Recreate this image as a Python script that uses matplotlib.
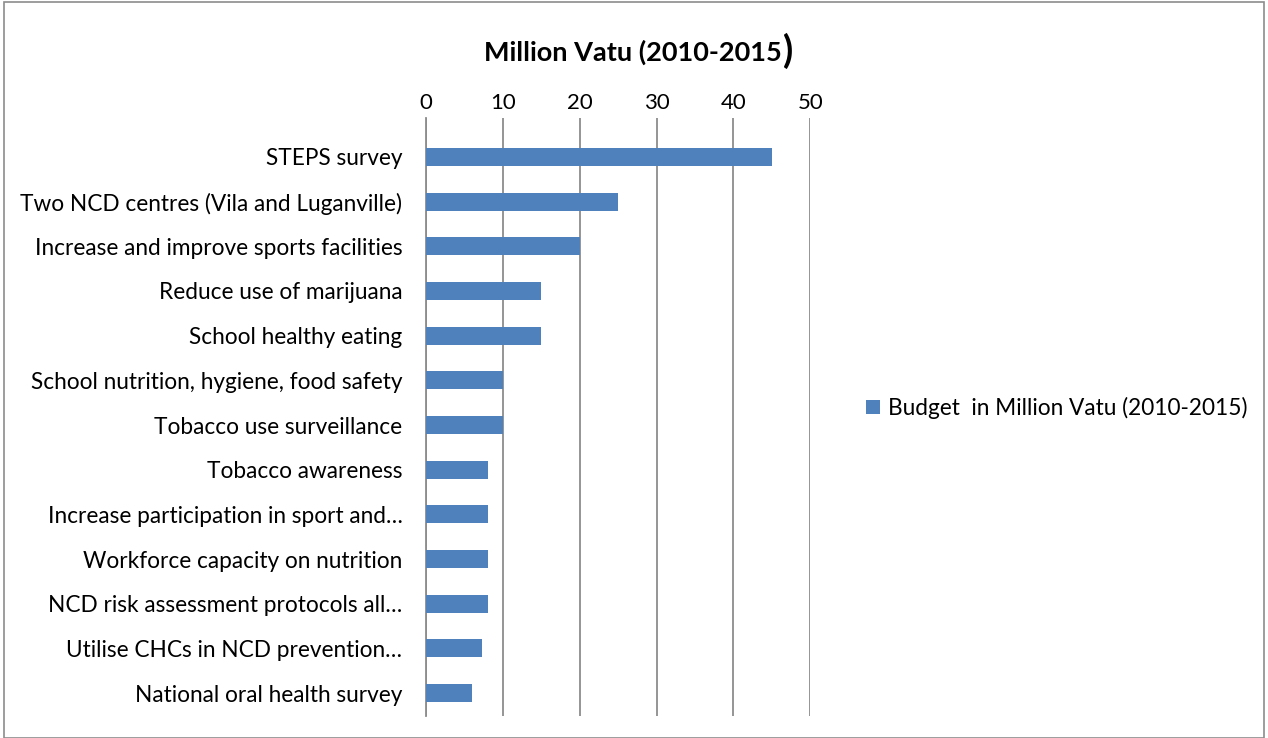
import matplotlib.pyplot as plt
from matplotlib.patches import Rectangle

plt.rcParams['font.family'] = ['Lato', 'DejaVu Sans']

# Budget per activity, million Vatu
activities = ['STEPS survey',
              'Two NCD centres (Vila and Luganville)',
              'Increase and improve sports facilities',
              'Reduce use of marijuana',
              'School healthy eating',
              'School nutrition, hygiene, food safety',
              'Tobacco use surveillance',
              'Tobacco awareness',
              'Increase participation in sport and…',
              'Workforce capacity on nutrition',
              'NCD risk assessment protocols all…',
              'Utilise CHCs in NCD prevention…',
              'National oral health survey']
budget = [45, 25, 20, 15, 15, 10, 10, 8, 8, 8, 8, 7.3, 6]
xticks = [0, 10, 20, 30, 40, 50]

fig = plt.figure(figsize=(12.68, 7.38), dpi=100)
ax = fig.add_axes([0.336, 0.030, 0.303, 0.810])

ypos = list(range(len(activities)))
ax.barh(ypos, budget, height=0.4, color='#4F81BD', label='Budget  in Million Vatu (2010-2015)', zorder=3)
ax.set_ylim(12.51, -0.87)
ax.set_xlim(0, 50)
ax.set_yticks(ypos)
ax.set_yticklabels(activities, fontsize=16.3)
ax.set_xticks(xticks)
ax.xaxis.tick_top()
ax.tick_params(axis='x', length=0, pad=4, labelsize=16)
ax.tick_params(axis='y', length=0, pad=17)
ax.grid(axis='x', color='#8c8c8c', linewidth=1.3, zorder=0)
for s in ['top', 'right', 'bottom']:
    ax.spines[s].set_visible(False)
ax.spines['left'].set_color('#8c8c8c')
ax.spines['left'].set_linewidth(1.3)

# title, with the oversized closing bracket as in the original
t = fig.text(0.3815, 0.929, 'Million Vatu (2010-2015', fontsize=19.5, fontweight='bold',
             ha='left', va='center')
ax.annotate(')', xy=(1, 0.5), xycoords=t, xytext=(1, 1), textcoords='offset points',
            fontsize=27, fontweight='bold', ha='left', va='center')

ax.legend(loc='center left', bbox_to_anchor=(0.667, 0.447), bbox_transform=fig.transFigure,
          frameon=False, fontsize=16.3, handlelength=0.6, handleheight=0.6, handletextpad=0.35)

# outer chart border
fig.patches.append(Rectangle((0.003, 0.0), 0.994, 0.997, transform=fig.transFigure,
                             fill=False, edgecolor='#8c8c8c', linewidth=1.2))

fig.savefig('out.png', dpi=100)
